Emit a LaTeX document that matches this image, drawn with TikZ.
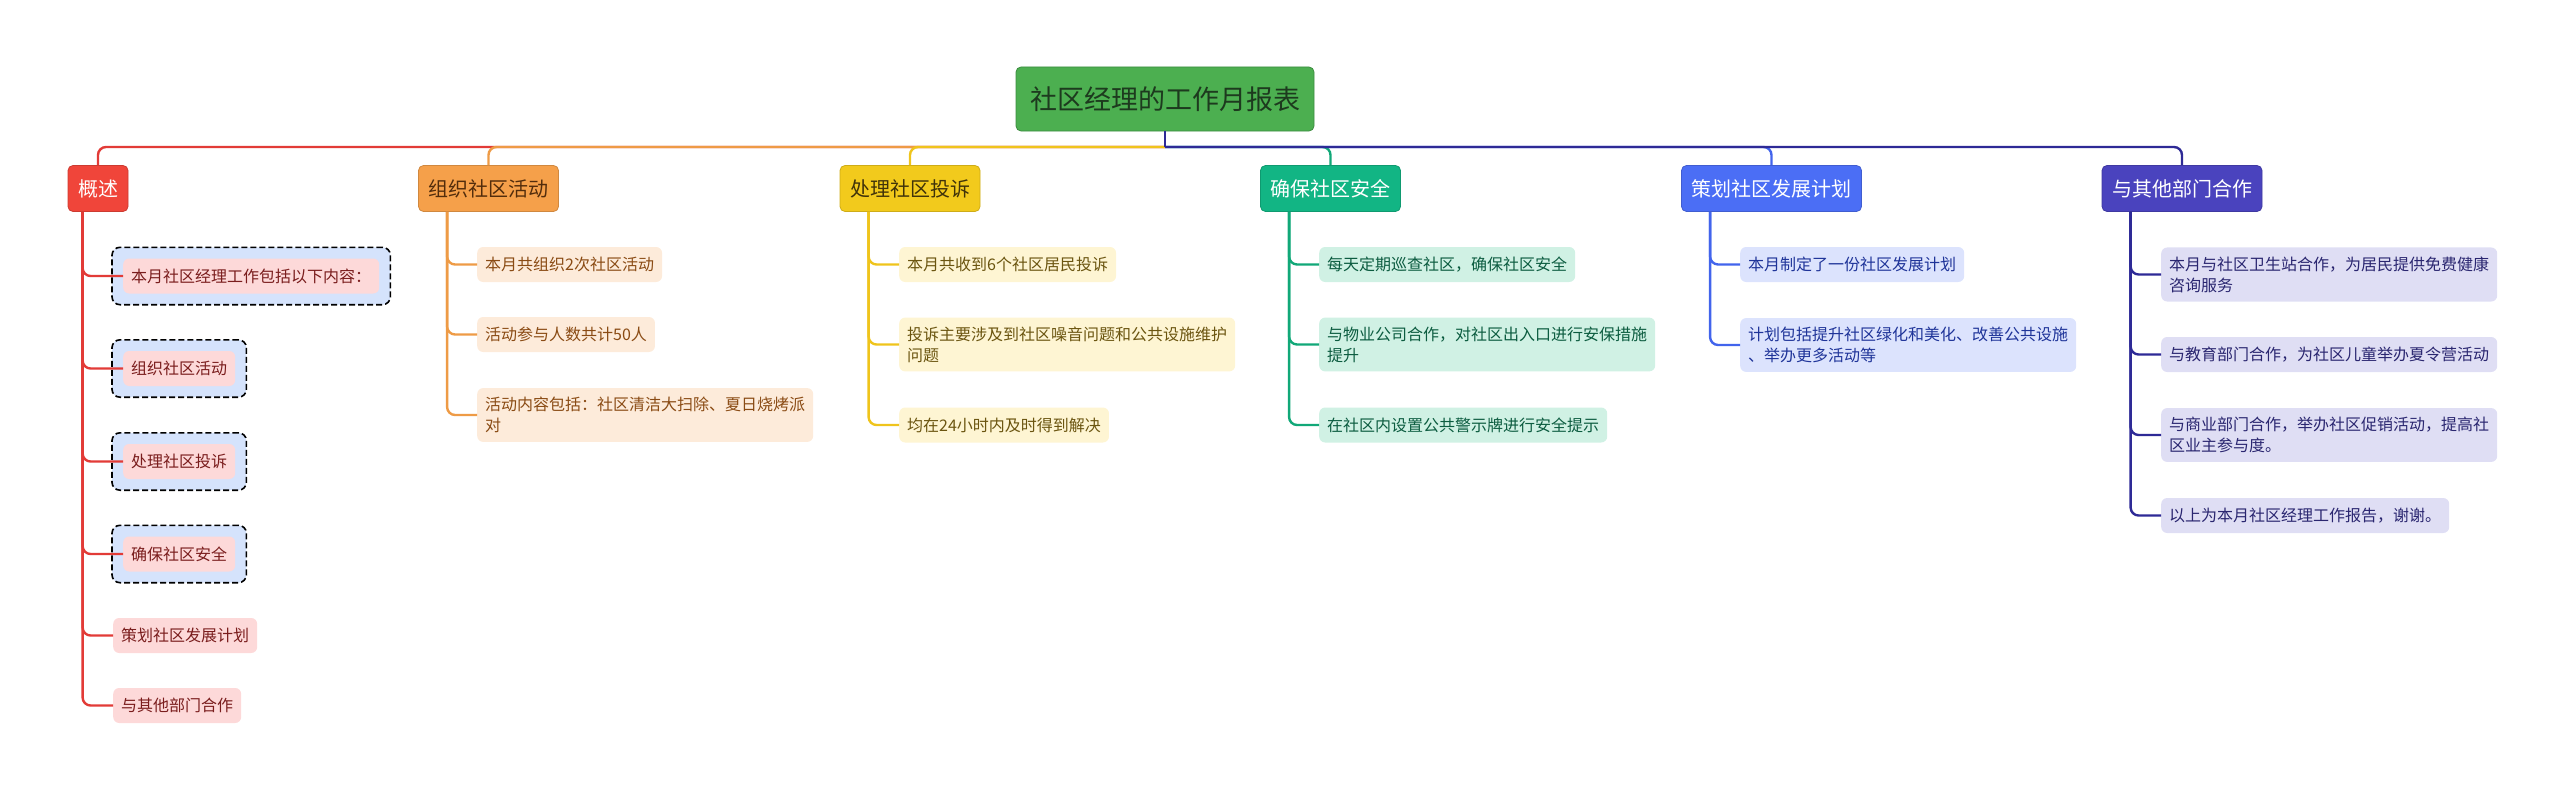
\documentclass[tikz,border=0pt]{standalone}
\usepackage{fontspec}
\setmainfont{Noto Sans CJK SC}
\usepackage{xcolor}
\definecolor{rootgreen}{HTML}{4CAF50}
\definecolor{roottext}{HTML}{1D3A1E}
\definecolor{redtopic}{HTML}{F0453A}
\definecolor{orangetopic}{HTML}{F5A04A}
\definecolor{yellowtopic}{HTML}{F2CA1C}
\definecolor{greentopic}{HTML}{12B584}
\definecolor{bluetopic}{HTML}{4B6EF5}
\definecolor{indigotopic}{HTML}{4A43BE}
\definecolor{redline}{HTML}{E23B37}
\definecolor{orangeline}{HTML}{EE9B46}
\definecolor{yellowline}{HTML}{EFC41C}
\definecolor{greenline}{HTML}{11A878}
\definecolor{blueline}{HTML}{4264EC}
\definecolor{indigoline}{HTML}{2E2A96}
\definecolor{redleaf}{HTML}{FDD9D9}
\definecolor{orangeleaf}{HTML}{FDEBDA}
\definecolor{yellowleaf}{HTML}{FEF5D3}
\definecolor{greenleaf}{HTML}{D0F1E4}
\definecolor{blueleaf}{HTML}{DCE3FD}
\definecolor{indigoleaf}{HTML}{DFDEF4}
\definecolor{redtext}{HTML}{7A1D1D}
\definecolor{orangetext}{HTML}{8A4B14}
\definecolor{yellowtext}{HTML}{6B5510}
\definecolor{greentext}{HTML}{0C5C40}
\definecolor{bluetext}{HTML}{1F3499}
\definecolor{indigotext}{HTML}{2A2670}
\definecolor{wrapblue}{HTML}{D5E3FC}
\usepackage{tikz}
\usetikzlibrary{calc,fit,backgrounds}

\begin{document}
\begin{tikzpicture}[
  x=1pt, y=-1pt,
  rootbox/.style={fill=rootgreen, draw=rootgreen!80!black, line width=0.8pt, rounded corners=5pt, text=roottext, inner xsep=14pt, inner ysep=0pt, minimum height=64pt, font=\fontsize{27}{32}\selectfont},
  topic/.style={fill=#1, draw=#1!85!black, line width=0.8pt, rounded corners=5pt, inner xsep=10pt, inner ysep=0pt, minimum height=46pt, font=\fontsize{20}{24}\selectfont},
  leaf/.style={fill=#1, rounded corners=6pt, inner xsep=8pt, inner ysep=9pt, minimum height=35pt, anchor=west, align=left, font=\fontsize{16}{21}\selectfont},
  wrap/.style={fill=wrapblue, draw=black, dash pattern=on 6pt off 3pt, line width=1.6pt, rounded corners=8pt, inner sep=11pt},
  link/.style={draw=#1, line width=2.4pt, rounded corners=8pt}
]
\useasboundingbox (0,0) rectangle (2560,792);

\node[rootbox] (root) at (1165,99) {社区经理的工作月报表};
\coordinate (bus) at (1165,147);

\node[topic=redtopic, text=white] (overview) at (98,188.5) {概述};
\node[topic=orangetopic, text=orangetext!60!black] (activity) at (488.5,188.5) {组织社区活动};
\node[topic=yellowtopic, text=yellowtext!60!black] (complaint) at (910,188.5) {处理社区投诉};
\node[topic=greentopic, text=white] (safety) at (1330.5,188.5) {确保社区安全};
\node[topic=bluetopic, text=white] (plan) at (1771.5,188.5) {策划社区发展计划};
\node[topic=indigotopic, text=white] (coop) at (2182,188.5) {与其他部门合作};

\draw[link=redline] (bus) -| (overview.north);
\draw[link=orangeline] (bus) -| (activity.north);
\draw[link=yellowline] (bus) -| (complaint.north);
\draw[link=greenline] (bus) -| (safety.north);
\draw[link=blueline] (bus) -| (plan.north);
\draw[link=indigoline] (bus) -| (coop.north);
\draw[link=indigoline] (root.south) -- (bus);

\node[leaf=redleaf, text=redtext] (ov1) at (123,276) {本月社区经理工作包括以下内容：};
\node[leaf=redleaf, text=redtext] (ov2) at (123,368.5) {组织社区活动};
\node[leaf=redleaf, text=redtext] (ov3) at (123,461.5) {处理社区投诉};
\node[leaf=redleaf, text=redtext] (ov4) at (123,554) {确保社区安全};
\node[leaf=redleaf, text=redtext] (ov5) at (113,635.5) {策划社区发展计划};
\node[leaf=redleaf, text=redtext] (ov6) at (113,705.5) {与其他部门合作};
\begin{scope}[on background layer]
\node[wrap, fit=(ov1)] (ov1wrap) {};
\node[wrap, fit=(ov2)] (ov2wrap) {};
\node[wrap, fit=(ov3)] (ov3wrap) {};
\node[wrap, fit=(ov4)] (ov4wrap) {};
\end{scope}

\node[leaf=orangeleaf, text=orangetext] (ac1) at (477,264.5) {本月共组织2次社区活动};
\node[leaf=orangeleaf, text=orangetext] (ac2) at (477,334.5) {活动参与人数共计50人};
\node[leaf=orangeleaf, text=orangetext] (ac3) at (477,415) {活动内容包括：社区清洁大扫除、夏日烧烤派\\对};

\node[leaf=yellowleaf, text=yellowtext] (co1) at (899,264.5) {本月共收到6个社区居民投诉};
\node[leaf=yellowleaf, text=yellowtext] (co2) at (899,344.5) {投诉主要涉及到社区噪音问题和公共设施维护\\问题};
\node[leaf=yellowleaf, text=yellowtext] (co3) at (899,425) {均在24小时内及时得到解决};

\node[leaf=greenleaf, text=greentext] (sa1) at (1319,264.5) {每天定期巡查社区，确保社区安全};
\node[leaf=greenleaf, text=greentext] (sa2) at (1319,344.5) {与物业公司合作，对社区出入口进行安保措施\\提升};
\node[leaf=greenleaf, text=greentext] (sa3) at (1319,425) {在社区内设置公共警示牌进行安全提示};

\node[leaf=blueleaf, text=bluetext] (pl1) at (1740,264.5) {本月制定了一份社区发展计划};
\node[leaf=blueleaf, text=bluetext] (pl2) at (1740,345) {计划包括提升社区绿化和美化、改善公共设施\\、举办更多活动等};

\node[leaf=indigoleaf, text=indigotext] (cp1) at (2161,274.5) {本月与社区卫生站合作，为居民提供免费健康\\咨询服务};
\node[leaf=indigoleaf, text=indigotext] (cp2) at (2161,354.5) {与教育部门合作，为社区儿童举办夏令营活动};
\node[leaf=indigoleaf, text=indigotext] (cp3) at (2161,435) {与商业部门合作，举办社区促销活动，提高社\\区业主参与度。};
\node[leaf=indigoleaf, text=indigotext] (cp4) at (2161,515.5) {以上为本月社区经理工作报告，谢谢。};

\draw[link=redline] ($(overview.south west)+(15,0)$) |- (ov1.west);
\draw[link=redline] ($(overview.south west)+(15,0)$) |- (ov2.west);
\draw[link=redline] ($(overview.south west)+(15,0)$) |- (ov3.west);
\draw[link=redline] ($(overview.south west)+(15,0)$) |- (ov4.west);
\draw[link=redline] ($(overview.south west)+(15,0)$) |- (ov5.west);
\draw[link=redline] ($(overview.south west)+(15,0)$) |- (ov6.west);

\draw[link=orangeline] ($(activity.south west)+(29,0)$) |- (ac1.west);
\draw[link=orangeline] ($(activity.south west)+(29,0)$) |- (ac2.west);
\draw[link=orangeline] ($(activity.south west)+(29,0)$) |- (ac3.west);

\draw[link=yellowline] ($(complaint.south west)+(29,0)$) |- (co1.west);
\draw[link=yellowline] ($(complaint.south west)+(29,0)$) |- (co2.west);
\draw[link=yellowline] ($(complaint.south west)+(29,0)$) |- (co3.west);

\draw[link=greenline] ($(safety.south west)+(29,0)$) |- (sa1.west);
\draw[link=greenline] ($(safety.south west)+(29,0)$) |- (sa2.west);
\draw[link=greenline] ($(safety.south west)+(29,0)$) |- (sa3.west);

\draw[link=blueline] ($(plan.south west)+(29,0)$) |- (pl1.west);
\draw[link=blueline] ($(plan.south west)+(29,0)$) |- (pl2.west);

\draw[link=indigoline] ($(coop.south west)+(29,0)$) |- (cp1.west);
\draw[link=indigoline] ($(coop.south west)+(29,0)$) |- (cp2.west);
\draw[link=indigoline] ($(coop.south west)+(29,0)$) |- (cp3.west);
\draw[link=indigoline] ($(coop.south west)+(29,0)$) |- (cp4.west);
\end{tikzpicture}
\end{document}
